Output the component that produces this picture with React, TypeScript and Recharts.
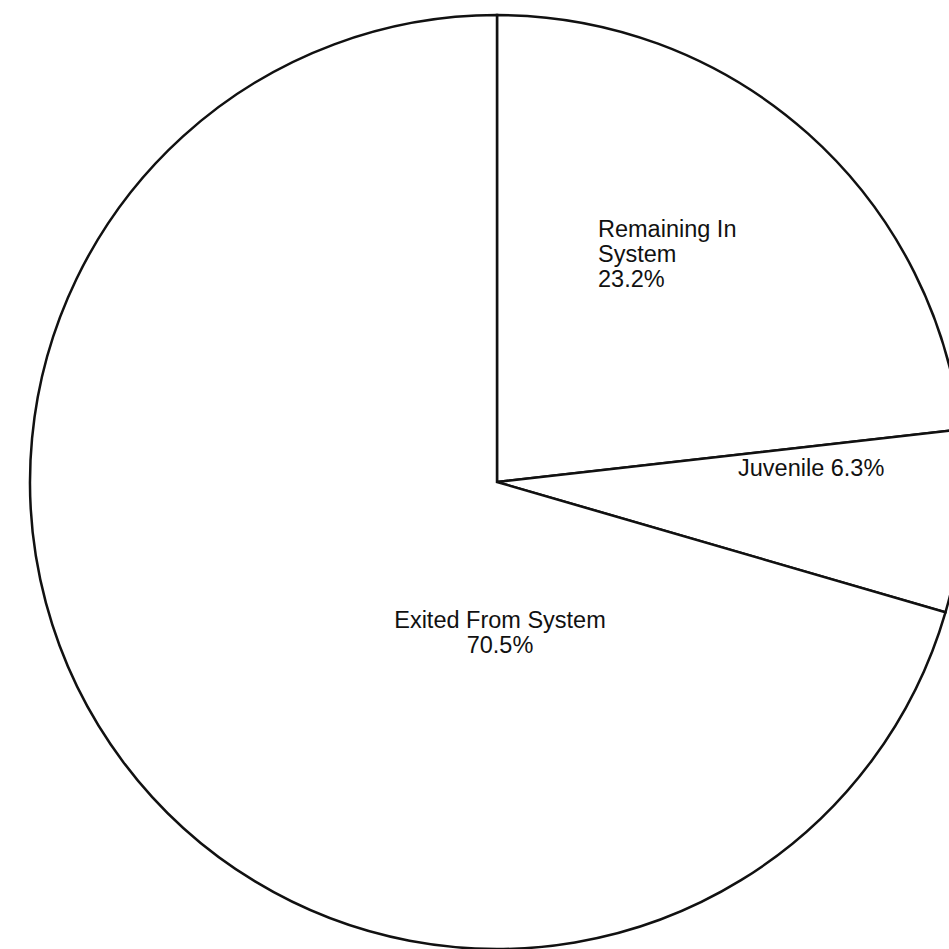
import React from "react";
import { PieChart, Pie, Cell } from "recharts";

// slices, clockwise from 12 o'clock
const categories = ["Remaining In System", "Juvenile", "Exited From System"];
const shares = [23.2, 6.3, 70.5];
const labelLines = [
  ["Remaining In", "System", "23.2%"],
  ["Juvenile 6.3%"],
  ["Exited From System", "70.5%"],
];

const data = categories.map((name, i) => ({ name, value: shares[i] }));

// label placement relative to pie centre
const labelPos = [
  { dx: 101, dy: -245, anchor: "start" },
  { dx: 241, dy: -6, anchor: "start" },
  { dx: 3, dy: 146, anchor: "middle" },
];

const FONT = "'Liberation Sans', Arial, Helvetica, sans-serif";

const renderLabel = (props: any) => {
  const { cx, cy, index } = props;
  const pos = labelPos[index];
  return (
    <text
      x={cx + pos.dx}
      y={cy + pos.dy}
      textAnchor={pos.anchor}
      fill="#111"
      fontSize={23.5}
      fontFamily={FONT}
    >
      {labelLines[index].map((line, j) => (
        <tspan key={j} x={cx + pos.dx} dy={j === 0 ? 0 : 25}>
          {line}
        </tspan>
      ))}
    </text>
  );
};

const App: React.FC = () => {
  return (
    <div style={{ position: "absolute", left: 0, top: 0, background: "#fff" }}>
      <PieChart width={949} height={949} margin={{ top: 0, right: 0, bottom: 0, left: 0 }}>
        <Pie
          data={data}
          dataKey="value"
          nameKey="name"
          cx={497}
          cy={482}
          outerRadius={467}
          startAngle={90}
          endAngle={-270}
          stroke="#111"
          strokeWidth={2.5}
          labelLine={false}
          label={renderLabel}
          isAnimationActive={false}
        >
          {data.map((d) => (
            <Cell key={d.name} fill="#fff" />
          ))}
        </Pie>
      </PieChart>
    </div>
  );
};

export default App;
